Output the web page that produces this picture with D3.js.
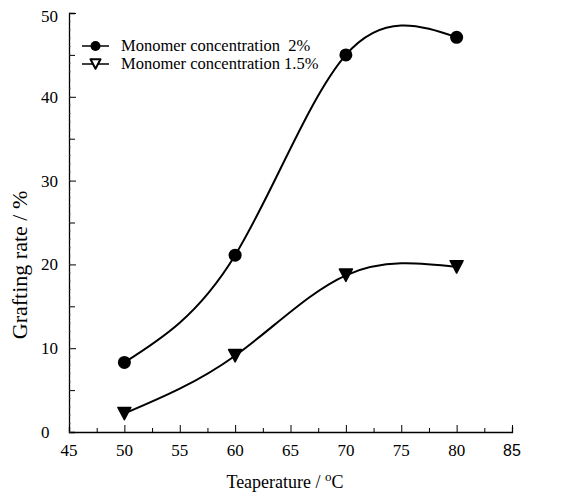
<!DOCTYPE html>
<html>
<head>
<meta charset="utf-8">
<script src="https://cdn.jsdelivr.net/npm/d3@7/dist/d3.min.js"></script>
<style>
  html, body { margin: 0; padding: 0; background: #fff; }
  svg { display: block; }
</style>
</head>
<body>
<svg id="chart" width="561" height="493"></svg>
<script>
// Temperature (°C) at which grafting was measured
const temperatures = [50, 60, 70, 80];
// Grafting rate (%) for each monomer concentration
const rate2pct = [8.3, 21.1, 45.0, 47.1];
const rate15pct = [2.2, 9.1, 18.7, 19.7];
const seriesNames = ["Monomer concentration  2%", "Monomer concentration 1.5%"];
const xTickValues = [45, 50, 55, 60, 65, 70, 75, 80, 85];
const yTickValues = [0, 10, 20, 30, 40, 50];

const svg = d3.select("#chart");
const serif = "'Liberation Serif', 'Times New Roman', serif";

const x = d3.scaleLinear().domain([45, 85]).range([69, 512]);
const y = d3.scaleLinear().domain([0, 50]).range([432, 13]);

// Axes with inward ticks
const xAxis = d3.axisBottom(x).tickValues(d3.range(45, 85.1, 2.5))
  .tickSize(-5).tickFormat("");
const gx = svg.append("g").attr("transform", `translate(0,${y(0)})`).call(xAxis);
gx.selectAll(".tick line").attr("y2", d => (d % 5 === 0 ? -7 : -4));

const yAxis = d3.axisLeft(y).tickValues(d3.range(0, 50.1, 5))
  .tickSize(-6).tickFormat("");
const gy = svg.append("g").attr("transform", `translate(${x(45)},0)`).call(yAxis);
gy.selectAll(".tick line").attr("x2", d => (d % 10 === 0 ? 7 : 6));

[gx, gy].forEach(g => {
  g.select(".domain").attr("stroke", "#000").attr("stroke-width", 1.3);
  g.selectAll(".tick line").attr("stroke", "#000").attr("stroke-width", 1);
});

// Fine minor ticks along y axis
svg.append("g").selectAll("line")
  .data(d3.range(0, 50.1, 1))
  .join("line")
  .attr("x1", x(45)).attr("x2", x(45) + 2)
  .attr("y1", d => y(d)).attr("y2", d => y(d))
  .attr("stroke", "#555").attr("stroke-width", 0.6);

// Tick labels
svg.append("g").selectAll("text")
  .data(xTickValues)
  .join("text")
  .attr("x", d => x(d))
  .attr("y", y(0) + 24)
  .attr("text-anchor", "middle")
  .style("font-family", d => (d === 85 ? "'Liberation Sans', Arial, sans-serif" : serif))
  .style("font-size", d => (d === 85 ? "16px" : "17px"))
  .attr("fill", "#000")
  .text(d => d);

svg.append("g").selectAll("text")
  .data(yTickValues)
  .join("text")
  .attr("x", 41)
  .attr("y", d => y(d) + 6 + (d === 50 ? 3 : 0))
  .attr("text-anchor", "start")
  .style("font-family", serif)
  .style("font-size", "17px")
  .attr("fill", "#000")
  .text(d => d);

// Axis titles
const xt = svg.append("text")
  .attr("x", 285).attr("y", 488)
  .attr("text-anchor", "middle")
  .style("font-family", serif).style("font-size", "18px").attr("fill", "#000");
xt.append("tspan").text("Teaperature / ");
xt.append("tspan").attr("dy", -7).style("font-size", "13px").text("o");
xt.append("tspan").attr("dy", 7).text("C");

svg.append("text")
  .attr("transform", "translate(27,265) rotate(-90)")
  .attr("text-anchor", "middle")
  .style("font-family", serif).style("font-size", "22px").attr("fill", "#000")
  .text("Grafting rate / %");

// Smooth curves through the measured points
const line = d3.line()
  .x(d => x(d[0]))
  .y(d => y(d[1]))
  .curve(d3.curveNatural);

const s1 = temperatures.map((t, i) => [t, rate2pct[i]]);
const s2 = temperatures.map((t, i) => [t, rate15pct[i]]);

[s1, s2].forEach(s => {
  svg.append("path")
    .datum(s)
    .attr("d", line)
    .attr("fill", "none")
    .attr("stroke", "#000")
    .attr("stroke-width", 2);
});

// Markers
svg.append("g").selectAll("circle")
  .data(s1)
  .join("circle")
  .attr("cx", d => x(d[0]))
  .attr("cy", d => y(d[1]))
  .attr("r", 6.5)
  .attr("fill", "#000");

const tri = (cx, cy, w) => {
  const h = w * 0.95;
  return `M${cx - w / 2},${cy - h / 2}L${cx + w / 2},${cy - h / 2}L${cx},${cy + h / 2}Z`;
};

svg.append("g").selectAll("path")
  .data(s2)
  .join("path")
  .attr("d", d => tri(x(d[0]), y(d[1]), 13))
  .attr("fill", "#000")
  .attr("stroke", "#000")
  .attr("stroke-width", 1.5)
  .attr("stroke-linejoin", "round");

// Legend
const legend = svg.append("g");
const ly = [46, 64];
ly.forEach((yy, i) => {
  legend.append("line")
    .attr("x1", 82).attr("x2", 109)
    .attr("y1", yy).attr("y2", yy)
    .attr("stroke", "#000").attr("stroke-width", 1.5);
  legend.append("text")
    .attr("x", 121).attr("y", yy + 5)
    .style("font-family", serif).style("font-size", "16.5px").attr("fill", "#000")
    .style("white-space", "pre")
    .text(seriesNames[i]);
});
legend.append("circle").attr("cx", 95.5).attr("cy", ly[0]).attr("r", 5).attr("fill", "#000");
legend.append("path")
  .attr("d", tri(95.5, ly[1], 10))
  .attr("fill", "#fff").attr("stroke", "#000").attr("stroke-width", 2)
  .attr("stroke-linejoin", "round");
</script>
</body>
</html>
